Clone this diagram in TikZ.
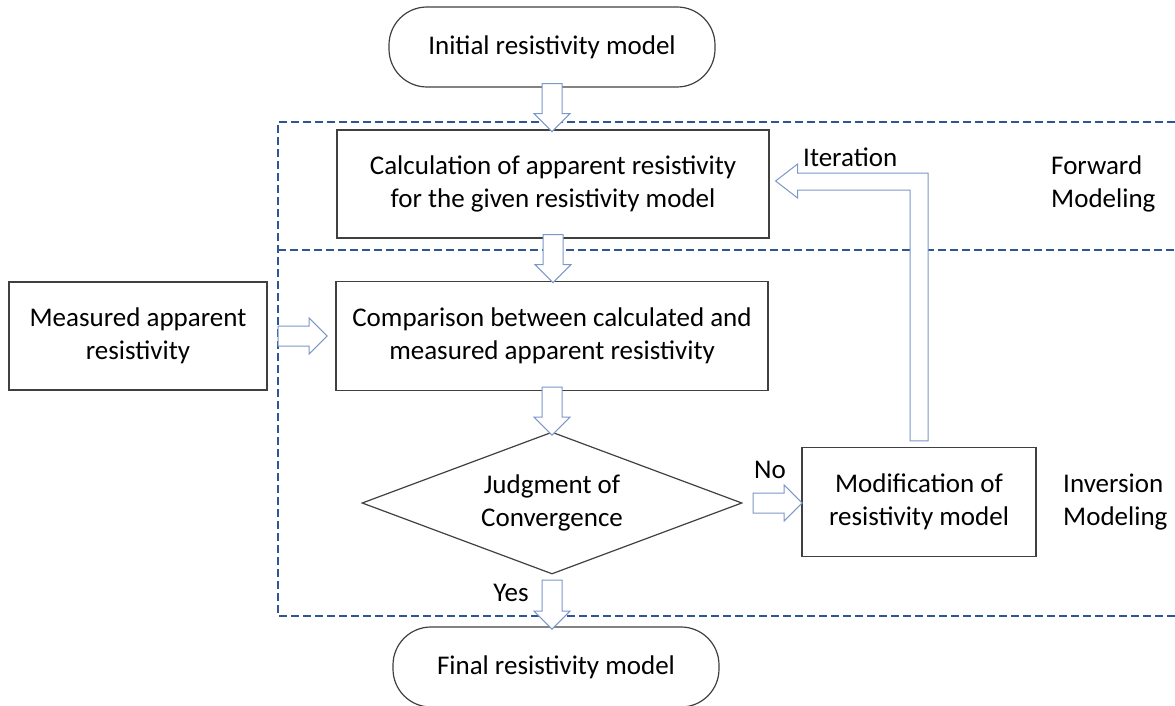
\documentclass[tikz,border=0pt]{standalone}
\usepackage{fontspec}
\setmainfont{Carlito}
\usetikzlibrary{shapes.geometric,shapes.arrows,calc}

\definecolor{boxgray}{RGB}{64,64,64}
\definecolor{zoneblue}{RGB}{47,85,151}
\definecolor{flowblue}{RGB}{124,151,200}

\begin{document}
\begin{tikzpicture}[x=1pt, y=-1pt, font=\fontsize{27}{33}\selectfont,
  box/.style={draw=boxgray, line width=1.2pt, fill=white, align=center, inner sep=0pt},
  terminal/.style={box, rounded corners=38pt, minimum width=326pt, minimum height=80pt},
  decision/.style={box, diamond, aspect=2.6, minimum width=380pt, minimum height=142pt},
  lbl/.style={inner sep=0pt},
  zone/.style={draw=zoneblue, line width=2pt, dash pattern=on 8pt off 4pt},
  flow/.style={single arrow, draw=flowblue, line width=1pt, fill=white,
    inner xsep=0pt, inner ysep=9.5pt, single arrow head extend=8pt, single arrow head indent=0pt},
  flowline/.style={draw=flowblue, line width=1pt, fill=white, line join=miter}]
  \useasboundingbox (0,0) rectangle (1175,706);

  \draw[zone] (1175,122) -| (278,616) -- (1175,616);
  \draw[zone] (278,250) -- (1175,250);

  \node[terminal] (init) at (552,47) {Initial resistivity model};
  \node[box, minimum width=432pt, minimum height=108pt] (forward) at (553,184)
    {Calculation of apparent resistivity\\for the given resistivity model};
  \node[box, minimum width=432pt, minimum height=109pt] (compare) at (552,336)
    {Comparison between calculated and\\measured apparent resistivity};
  \node[box, minimum width=258pt, minimum height=108pt] (measured) at (138,336)
    {Measured apparent\\resistivity};
  \node[decision] (judge) at (552,503) {Judgment of\\Convergence};
  \node[box, minimum width=234pt, minimum height=109pt] (modify) at (919,502)
    {Modification of\\resistivity model};
  \node[terminal] (final) at (556,667) {Final resistivity model};

  \node[flow, minimum height=48pt, rotate=-90] (a1) at ($(init.south)+(0,15)$) {};
  \node[flow, minimum height=48pt, rotate=-90] (a2) at ($(forward.south)+(0,15)$) {};
  \node[flow, minimum height=48pt, rotate=-90] (a3) at ($(compare.south)+(0,15)$) {};
  \node[flow, minimum height=49pt, rotate=-90] (a4) at ($(judge.south)+(0,25)$) {};
  \node[flow, minimum height=49pt] (a5) at ($(measured.east)+(30,0)$) {};
  \node[flow, minimum height=49pt] (a6) at ($(judge.east)+(30,0)$) {};

  \coordinate (itb) at ($(modify.north)+(0,-6)$);
  \coordinate (ite) at ($(forward.east)+(6,-3)$);
  \draw[flowline] ($(itb)+(-9,0)$) |- ($(ite)+(22,9)$) -- ++(0,8) -- (ite)
    -- ++(22,-17) -- ++(0,9) -| ($(itb)+(9,0)$) -- cycle;

  \node[lbl, anchor=west] (iterlbl) at (803,157) {Iteration};
  \node[lbl] (nolbl) at (770,470) {No};
  \node[lbl] (yeslbl) at (511,593) {Yes};
  \node[lbl, anchor=west, align=left] (fwdlbl) at (1051,184) {Forward\\Modeling};
  \node[lbl, anchor=west, align=left] (invlbl) at (1063,502) {Inversion\\Modeling};
\end{tikzpicture}
\end{document}
